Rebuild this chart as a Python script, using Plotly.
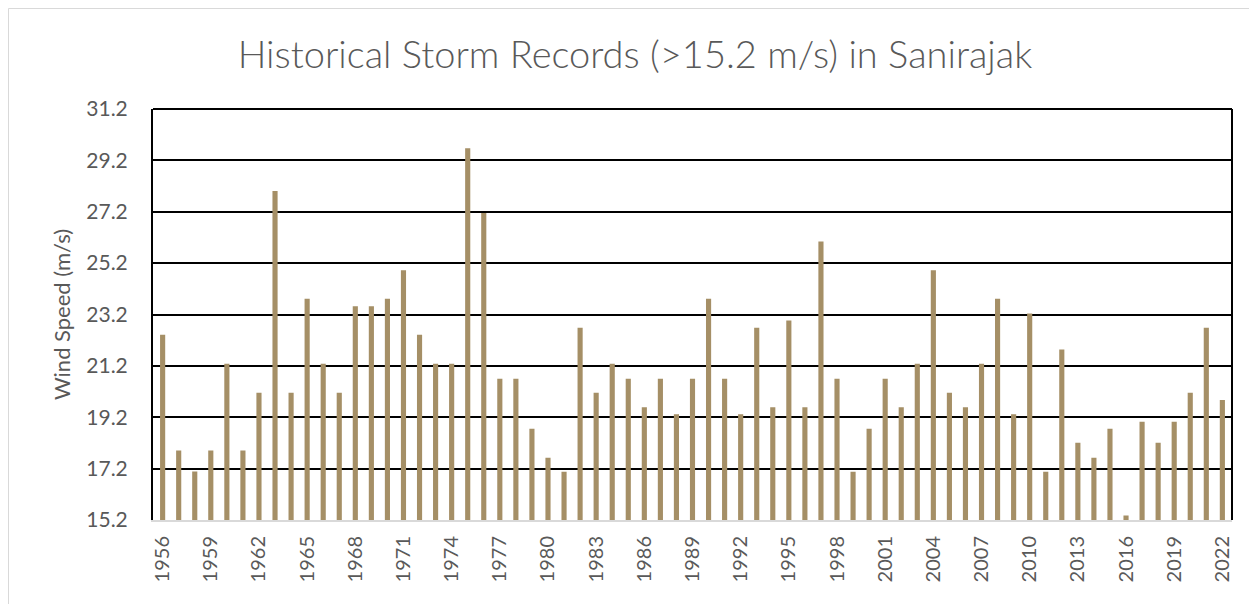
import plotly.graph_objects as go

years = list(range(1956, 2023))
speeds = [22.41, 17.91, 17.09, 17.91, 21.28, 17.91, 20.15, 28.01, 20.15, 23.81,
          21.28, 20.15, 23.52, 23.52, 23.81, 24.92, 22.41, 21.28, 21.28, 29.67,
          27.15, 20.70, 20.70, 18.75, 17.62, 17.08, 22.68, 20.15, 21.28, 20.70,
          19.59, 20.70, 19.32, 20.70, 23.81, 20.70, 19.32, 22.68, 19.59, 22.97,
          19.59, 26.04, 20.70, 17.08, 18.75, 20.70, 19.59, 21.28, 24.92, 20.15,
          19.59, 21.28, 23.81, 19.32, 23.24, 17.08, 21.84, 18.21, 17.62, 18.75,
          15.38, 19.02, 18.21, 19.02, 20.15, 22.68, 19.87]
y_ticks = [15.2, 17.2, 19.2, 21.2, 23.2, 25.2, 27.2, 29.2, 31.2]
x_ticks = years[::3]

title_text = "Historical Storm Records (>15.2 m/s) in Sanirajak"
y_title = "Wind Speed (m/s)"

FONT = "Lato"
GRAY = "#595959"

fig = go.Figure(go.Bar(
    x=[str(y) for y in years], y=speeds,
    marker=dict(color="#A58F66", line=dict(width=0)),
    width=0.32,
))

# page has an 8px body margin, so figure is offset by 8px
W, H = 1249, 596
ml, mr, mt, mb = 145, 25, 101, 84

fig.update_layout(
    width=W, height=H,
    margin=dict(l=ml, r=mr, t=mt, b=mb),
    paper_bgcolor="white", plot_bgcolor="white",
    showlegend=False,
    title=dict(text=title_text, x=627 / W, xanchor="center",
               xref="container", y=1 - 47 / H, yanchor="middle",
               font=dict(family=FONT, size=38, color=GRAY, weight=300)),
    font=dict(family=FONT, color=GRAY),
)
fig.update_xaxes(
    type="category",
    tickvals=[str(y) for y in x_ticks], ticktext=[str(y) for y in x_ticks],
    tickangle=-90, tickfont=dict(size=20, color=GRAY, family=FONT),
    ticklabelstandoff=6,
    showgrid=False, showline=True, linecolor="#d9d9d9", linewidth=2,
    ticks="", ticklen=0, range=[-0.6, len(years) - 0.4],
)
fig.update_yaxes(
    range=[15.2, 31.2], tickvals=y_ticks, ticktext=[f"{v:.1f}" for v in y_ticks],
    tickfont=dict(size=21, color=GRAY, family=FONT),
    showgrid=True, gridcolor="black", gridwidth=2,
    showline=True, linecolor="black", linewidth=2, mirror=False,
    zeroline=False, ticks="", ticklabelstandoff=19,
    title=dict(text=y_title, font=dict(size=22, color=GRAY, family=FONT), standoff=10),
)

# plot frame top and right, plus outer chart border
fig.add_shape(type="line", xref="paper", yref="paper", x0=1, x1=1, y0=0, y1=1,
              line=dict(color="black", width=2))
fig.add_shape(type="line", xref="paper", yref="paper", x0=0, x1=1, y0=1, y1=1,
              line=dict(color="black", width=2))
pw = W - ml - mr
ph = H - mt - mb
fig.add_shape(type="rect", xref="paper", yref="paper",
              x0=(0.5 - ml) / pw, x1=(W + 5 - ml) / pw,
              y0=-(mb + 5) / ph, y1=1 + (mt - 0.5) / ph,
              line=dict(color="#d9d9d9", width=1), layer="below")

fig.write_html("out.html")
